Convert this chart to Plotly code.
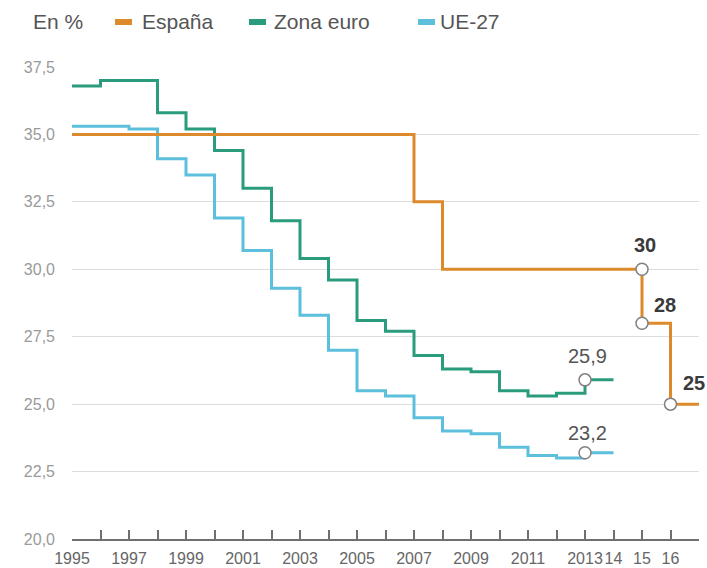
import plotly.graph_objects as go

# ---- data ----
years_eu = list(range(1995, 2014))
zona_euro = [36.8, 37.0, 37.0, 35.8, 35.2, 34.4, 33.0, 31.8, 30.4, 29.6, 28.1,
             27.7, 26.8, 26.3, 26.2, 25.5, 25.3, 25.4, 25.9]
ue27 = [35.3, 35.3, 35.2, 34.1, 33.5, 31.9, 30.7, 29.3, 28.3, 27.0, 25.5,
        25.3, 24.5, 24.0, 23.9, 23.4, 23.1, 23.0, 23.2]
eu_end_year = 2014

spain_years = [1995, 2007, 2008, 2015, 2016]
spain_vals = [35.0, 32.5, 30.0, 28.0, 25.0]
spain_end_year = 2017

spain_mark_years = [2015, 2015, 2016]
spain_mark_vals = [30, 28, 25]
spain_mark_labels = ["30", "28", "25"]

eu_mark_year = 2013
eu_mark_vals = [25.9, 23.2]
eu_mark_labels = ["25,9", "23,2"]

series_names = ["España", "Zona euro", "UE-27"]
colors = ["#DD8A2C", "#2A9C7D", "#5CBFDB"]

x_tick_vals = list(range(1995, 2017))
x_tick_text = [str(y) if (y % 2 == 1 and y <= 2013) else "" for y in range(1995, 2014)] + ["14", "15", "16"]
y_tick_vals = [20, 22.5, 25, 27.5, 30, 32.5, 35, 37.5]

REG = "Liberation Sans, Arial, sans-serif"

W, H = 707, 568
L, R, T, B = 72, 8, 67, 29
PW, PH = W - L - R, H - T - B


def px(x):
    return (x - L) / PW


def py(y):
    return (H - B - y) / PH


fig = go.Figure()

fig.add_trace(go.Scatter(x=years_eu + [eu_end_year], y=ue27 + [ue27[-1]], mode="lines",
                         line=dict(color=colors[2], width=3, shape="hv"), name=series_names[2],
                         showlegend=False, hoverinfo="skip"))
fig.add_trace(go.Scatter(x=years_eu + [eu_end_year], y=zona_euro + [zona_euro[-1]], mode="lines",
                         line=dict(color=colors[1], width=3, shape="hv"), name=series_names[1],
                         showlegend=False, hoverinfo="skip"))
fig.add_trace(go.Scatter(x=spain_years + [spain_end_year], y=spain_vals + [spain_vals[-1]], mode="lines",
                         line=dict(color=colors[0], width=3, shape="hv"), name=series_names[0],
                         showlegend=False, hoverinfo="skip"))

marker_style = dict(size=12, color="white", line=dict(color="#808080", width=1.5))
fig.add_trace(go.Scatter(x=[eu_mark_year] * len(eu_mark_vals), y=eu_mark_vals, mode="markers",
                         marker=marker_style, showlegend=False, hoverinfo="skip", cliponaxis=False))
fig.add_trace(go.Scatter(x=spain_mark_years, y=spain_mark_vals, mode="markers",
                         marker=marker_style, showlegend=False, hoverinfo="skip", cliponaxis=False))

annotations = []
spain_shifts = [(3, 24), (23, 18), (23, 21)]
for xv, yv, t, (dx, dy) in zip(spain_mark_years, spain_mark_vals, spain_mark_labels, spain_shifts):
    annotations.append(dict(x=xv, y=yv, xref="x", yref="y", text="<b>" + t + "</b>", showarrow=False,
                            xshift=dx, yshift=dy, font=dict(family=REG, size=20, color="#3a3a3a")))
for yv, t, dy in zip(eu_mark_vals, eu_mark_labels, [24, 20]):
    annotations.append(dict(x=eu_mark_year, y=yv, xref="x", yref="y", text=t, showarrow=False,
                            xshift=2, yshift=dy, font=dict(family=REG, size=20, color="#555555")))

# Legend (manual)
annotations.append(dict(x=px(31), y=py(22), xref="paper", yref="paper", text="En %", showarrow=False,
                        xanchor="left", yanchor="middle", font=dict(family=REG, size=21, color="#555555")))
shapes = []
legend_swatch_x = [115, 249, 418]
legend_text_x = [140, 272, 438]
for name, c, sx, tx in zip(series_names, colors, legend_swatch_x, legend_text_x):
    shapes.append(dict(type="rect", xref="paper", yref="paper", x0=px(sx), x1=px(sx + 17),
                       y0=py(25), y1=py(19), fillcolor=c, line=dict(width=0)))
    annotations.append(dict(x=px(tx), y=py(22), xref="paper", yref="paper", text=name, showarrow=False,
                            xanchor="left", yanchor="middle", font=dict(family=REG, size=21, color="#555555")))

fig.update_layout(
    width=W, height=H,
    margin=dict(l=L, r=R, t=T, b=B, pad=0),
    paper_bgcolor="white", plot_bgcolor="white",
    separators=",.",
    annotations=annotations, shapes=shapes,
    showlegend=False,
    xaxis=dict(range=[1995, 2017], tickvals=x_tick_vals, ticktext=x_tick_text, tickangle=0,
               ticks="inside", ticklen=9, tickwidth=1.5, tickcolor="#707070",
               showline=True, linecolor="#707070", linewidth=2, showgrid=False, zeroline=False,
               automargin=False, ticklabelstandoff=4,
               tickfont=dict(family=REG, size=16, color="#666666"), fixedrange=True),
    yaxis=dict(range=[20, 37.5], tickvals=y_tick_vals, tickformat=".1f",
               showgrid=True, gridcolor="#dcdcdc", gridwidth=1, zeroline=False, showline=False,
               ticks="", ticklabelstandoff=16, automargin=False,
               tickfont=dict(family=REG, size=16, color="#9a9a9a"), fixedrange=True),
)

fig.write_html("out.html", config={"displayModeBar": False},
               post_script="document.body.style.margin='0';document.body.style.overflow='hidden';")
